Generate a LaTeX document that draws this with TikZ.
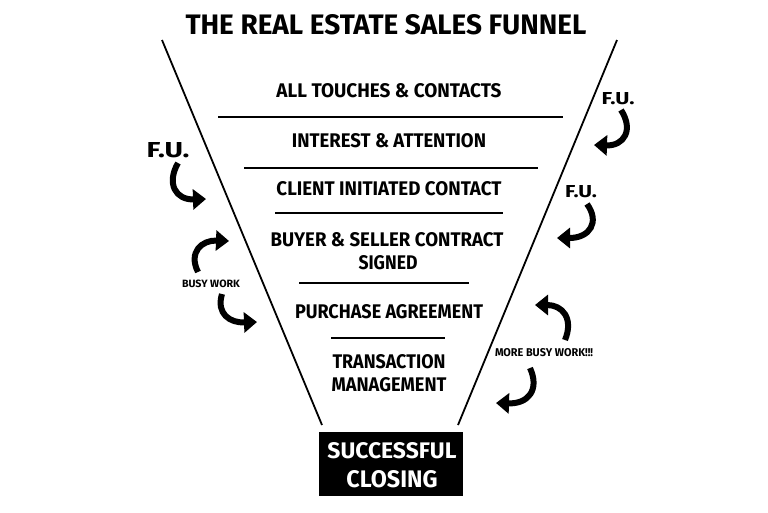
\documentclass[tikz,border=0pt]{standalone}
\usepackage{fontspec}
\setmainfont{Fira Sans}
\usetikzlibrary{arrows.meta}
\newcommand\fitt[3]{\resizebox{#1pt}{#2pt}{\bfseries #3}}
\begin{document}
\begin{tikzpicture}[x=1pt,y=-1pt,
  funnel/.style={line width=1.8pt},
  sep/.style={line width=1.8pt},
  lbl/.style={inner sep=0pt,anchor=center},
  curvy/.style={line width=6pt,-{Triangle[width=20pt,length=13pt]}},
  closebox/.style={fill=black,draw=black,minimum width=143pt,minimum height=63pt,inner sep=0pt}]
\useasboundingbox[fill=white] (0,0) rectangle (768,512);
% title
\node[lbl] (title) at (386,25) {\fitt{401}{20}{THE REAL ESTATE SALES FUNNEL}};
% funnel sides
\coordinate (lt) at (162,40); \coordinate (lb) at (322,425);
\coordinate (rt) at (617,40); \coordinate (rb) at (458,425);
\draw[funnel] (lt) -- (lb);
\draw[funnel] (rt) -- (rb);
% separators
\coordinate (s1a) at (218,117); \coordinate (s1b) at (563,117);
\coordinate (s2a) at (244,168); \coordinate (s2b) at (538,168);
\coordinate (s3a) at (275,213); \coordinate (s3b) at (503,213);
\coordinate (s4a) at (299,283); \coordinate (s4b) at (469,283);
\coordinate (s5a) at (331,338); \coordinate (s5b) at (445,338);
\draw[sep] (s1a) -- (s1b);
\draw[sep] (s2a) -- (s2b);
\draw[sep] (s3a) -- (s3b);
\draw[sep] (s4a) -- (s4b);
\draw[sep] (s5a) -- (s5b);
% stages
\node[lbl] (t1) at (389,91) {\fitt{225}{14}{ALL TOUCHES \& CONTACTS}};
\node[lbl] (t2) at (389,141) {\fitt{194}{14}{INTEREST \& ATTENTION}};
\node[lbl] (t3) at (389,189) {\fitt{225}{14}{CLIENT INITIATED CONTACT}};
\node[lbl] (t4a) at (387,240) {\fitt{233}{14}{BUYER \& SELLER CONTRACT}};
\node[lbl] (t4b) at (388,263) {\fitt{59}{14}{SIGNED}};
\node[lbl] (t5) at (389,312) {\fitt{188}{14}{PURCHASE AGREEMENT}};
\node[lbl] (t6a) at (389,362) {\fitt{113}{14}{TRANSACTION}};
\node[lbl] (t6b) at (389,385) {\fitt{115}{14}{MANAGEMENT}};
% closing box
\node[closebox] (box) at (391,464) {};
\node[lbl,text=white] (c1) at (392,451) {\fitt{129}{16}{SUCCESSFUL}};
\node[lbl,text=white] (c2) at (392,479) {\fitt{91}{17}{CLOSING}};
% side labels
\node[lbl] (fu1) at (168,150) {\fitt{43}{15}{F.U.}};
\node[lbl] (bw) at (211,284) {\fitt{58}{7.5}{BUSY WORK}};
\node[lbl] (fu2) at (618,99) {\fitt{33}{12}{F.U.}};
\node[lbl] (fu3) at (581,192) {\fitt{32}{12}{F.U.}};
\node[lbl] (mbw) at (544,353) {\fitt{98}{8}{MORE BUSY WORK!!!}};
% curved arrows
\coordinate (a1s) at (178,163); \coordinate (a1e) at (206,199);
\coordinate (a2s) at (198,272); \coordinate (a2e) at (229,241);
\coordinate (a3s) at (222,294); \coordinate (a3e) at (257,322);
\coordinate (b1s) at (621,110); \coordinate (b1e) at (594,145);
\coordinate (b2s) at (587,204); \coordinate (b2e) at (557,238);
\coordinate (b3s) at (565,340); \coordinate (b3e) at (535,305);
\coordinate (b4s) at (530,368); \coordinate (b4e) at (496,403);
\draw[curvy] (a1s) .. controls (166,184) and (176,200) .. (a1e);
\draw[curvy] (a2s) .. controls (188,252) and (202,240) .. (a2e);
\draw[curvy] (a3s) .. controls (216,314) and (230,323) .. (a3e);
\draw[curvy] (b1s) .. controls (634,130) and (624,146) .. (b1e);
\draw[curvy] (b2s) .. controls (600,222) and (590,238) .. (b2e);
\draw[curvy] (b3s) .. controls (574,318) and (562,305) .. (b3e);
\draw[curvy] (b4s) .. controls (540,390) and (528,404) .. (b4e);
\end{tikzpicture}
\end{document}
